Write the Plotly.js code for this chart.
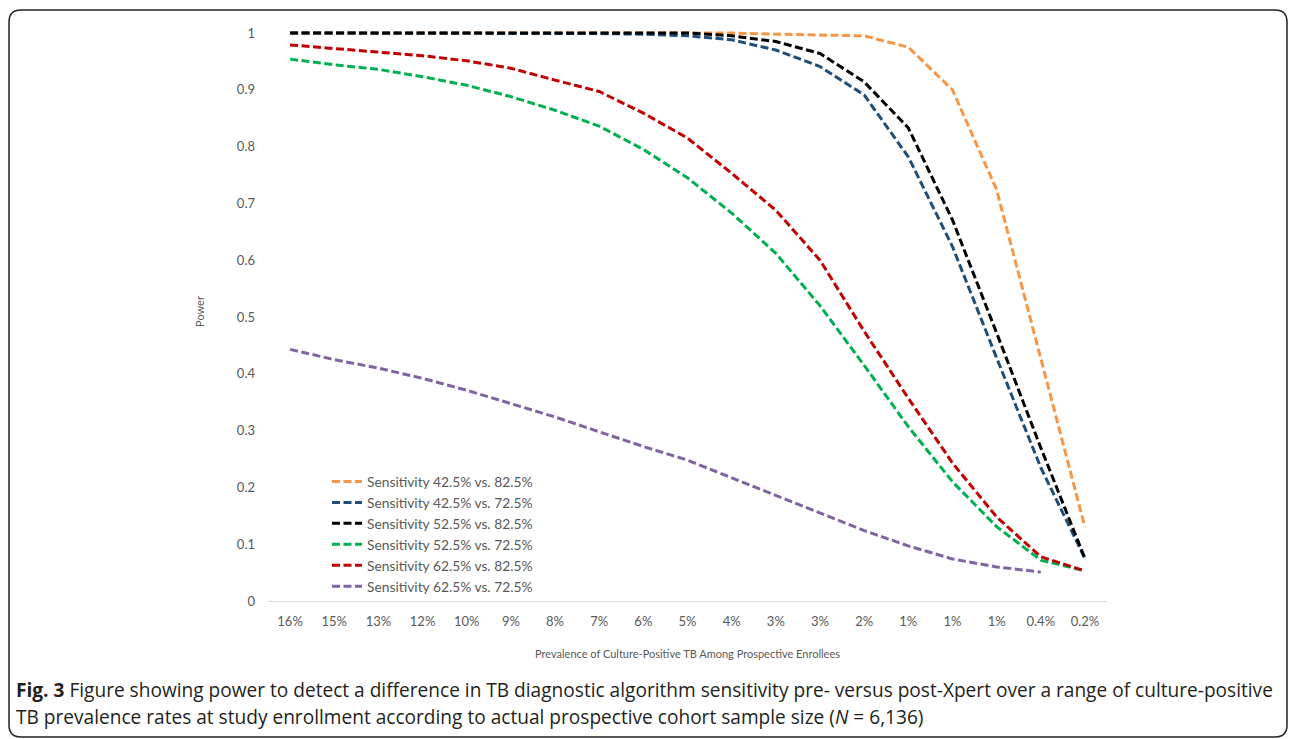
<!DOCTYPE html>
<html>
<head>
<meta charset="utf-8">
<script src="https://cdn.plot.ly/plotly-3.0.1.min.js"></script>
<style>html,body{margin:0;padding:0;background:#fff;}#chart{width:1296px;height:739px;}</style>
</head>
<body>
<div id="chart"></div>
<script>
// Categories (prevalence of culture-positive TB)
const categories = ['16%','15%','13%','12%','10%','9%','8%','7%','6%','5%','4%','3%','3%','2%','1%','1%','1%','0.4%','0.2%'];

const seriesNames = [
  'Sensitivity 42.5% vs. 82.5%',
  'Sensitivity 42.5% vs. 72.5%',
  'Sensitivity 52.5% vs. 82.5%',
  'Sensitivity 52.5% vs. 72.5%',
  'Sensitivity 62.5% vs. 82.5%',
  'Sensitivity 62.5% vs. 72.5%'
];

const sens425vs825 = [1.000, 1.000, 1.000, 1.000, 1.000, 1.000, 1.000, 1.000, 1.000, 1.000, 1.000, 0.998, 0.997, 0.995, 0.975, 0.900, 0.724, 0.425, 0.130];
const sens425vs725 = [1.000, 1.000, 1.000, 1.000, 1.000, 1.000, 1.000, 0.999, 0.998, 0.995, 0.988, 0.970, 0.941, 0.891, 0.782, 0.624, 0.428, 0.235, 0.075];
const sens525vs825 = [1.000, 1.000, 1.000, 1.000, 1.000, 1.000, 1.000, 1.000, 1.000, 1.000, 0.995, 0.985, 0.964, 0.914, 0.833, 0.671, 0.472, 0.270, 0.075];
const sens525vs725 = [0.954, 0.944, 0.936, 0.923, 0.908, 0.888, 0.864, 0.836, 0.795, 0.745, 0.683, 0.612, 0.520, 0.415, 0.307, 0.210, 0.131, 0.072, 0.053];
const sens625vs825 = [0.979, 0.973, 0.967, 0.960, 0.951, 0.938, 0.917, 0.897, 0.859, 0.815, 0.753, 0.688, 0.600, 0.475, 0.357, 0.243, 0.148, 0.078, 0.053];
const sens625vs725 = [0.443, 0.425, 0.410, 0.392, 0.371, 0.348, 0.324, 0.298, 0.272, 0.248, 0.217, 0.187, 0.155, 0.124, 0.097, 0.074, 0.060, 0.051, null];

const seriesValues = [sens425vs825, sens425vs725, sens525vs825, sens525vs725, sens625vs825, sens625vs725];
const seriesColors = ['#F79646', '#1F4E79', '#000000', '#00B050', '#C00000', '#8064A2'];

const idx = categories.map((c, i) => i);

const traces = seriesValues.map((vals, k) => ({
  type: 'scatter',
  mode: 'lines',
  x: idx,
  y: vals,
  name: seriesNames[k],
  line: {color: seriesColors[k], width: 3, dash: '8px,3.5px'},
  connectgaps: false,
  hoverinfo: 'x+y+name'
}));

// geometry helpers (pixel -> paper)
const W = 1296, H = 739;
const L = 268, R = 1107, T = 22, B = 601;
const px = v => (v - L) / (R - L);
const py = v => (B - v) / (B - T);

// rounded border
const bx0 = 9, bx1 = 1287, by0 = 10, by1 = 737, rad = 12;
const borderPath =
  `M ${px(bx0 + rad)} ${py(by0)} L ${px(bx1 - rad)} ${py(by0)} ` +
  `Q ${px(bx1)} ${py(by0)} ${px(bx1)} ${py(by0 + rad)} ` +
  `L ${px(bx1)} ${py(by1 - rad)} Q ${px(bx1)} ${py(by1)} ${px(bx1 - rad)} ${py(by1)} ` +
  `L ${px(bx0 + rad)} ${py(by1)} Q ${px(bx0)} ${py(by1)} ${px(bx0)} ${py(by1 - rad)} ` +
  `L ${px(bx0)} ${py(by0 + rad)} Q ${px(bx0)} ${py(by0)} ${px(bx0 + rad)} ${py(by0)} Z`;

const chartFont = 'Lato, "Open Sans", sans-serif';
const grey = '#595959';

const layout = {
  width: W, height: H,
  margin: {l: L, r: W - R, t: T, b: H - B, pad: 0},
  paper_bgcolor: '#ffffff',
  plot_bgcolor: '#ffffff',
  showlegend: true,
  font: {family: chartFont, color: grey, size: 13},
  xaxis: {
    range: [-0.5, categories.length - 0.5],
    tickmode: 'array',
    tickvals: idx,
    ticktext: categories,
    showgrid: false,
    zeroline: false,
    showline: true,
    linecolor: '#D9D9D9',
    linewidth: 1,
    ticks: '',
    ticklabelstandoff: 8,
    tickfont: {family: chartFont, size: 13, color: grey},
    title: {text: 'Prevalence of Culture-Positive TB Among Prospective Enrollees',
            font: {family: chartFont, size: 11, color: grey}, standoff: 22},
    fixedrange: true
  },
  yaxis: {
    range: [0, (B - T) / (B - 33)],
    tickmode: 'array',
    tickvals: [0, 0.1, 0.2, 0.3, 0.4, 0.5, 0.6, 0.7, 0.8, 0.9, 1],
    ticktext: ['0', '0.1', '0.2', '0.3', '0.4', '0.5', '0.6', '0.7', '0.8', '0.9', '1'],
    showgrid: false,
    zeroline: false,
    showline: false,
    ticks: '',
    ticklabelstandoff: 12,
    tickfont: {family: chartFont, size: 13, color: grey},
    title: {text: 'Power', font: {family: chartFont, size: 11, color: grey}, standoff: 29},
    fixedrange: true
  },
  legend: {
    x: px(327), y: py(466), xanchor: 'left', yanchor: 'top',
    bgcolor: 'rgba(0,0,0,0)',
    borderwidth: 0,
    font: {family: chartFont, size: 13.8, color: grey},
    traceorder: 'normal',
    itemwidth: 30
  },
  shapes: [{
    type: 'path', xref: 'paper', yref: 'paper', path: borderPath,
    line: {color: '#222222', width: 1.5}, fillcolor: 'rgba(0,0,0,0)', layer: 'above'
  }],
  annotations: [
    {xref: 'paper', yref: 'paper', x: px(14), y: py(690), xanchor: 'left', yanchor: 'middle',
     showarrow: false, align: 'left',
     text: '<b>Fig. 3</b> Figure showing power to detect a difference in TB diagnostic algorithm sensitivity pre- versus post-Xpert over a range of culture-positive',
     font: {family: '"Open Sans", sans-serif', size: 19.1, color: '#231F20'}},
    {xref: 'paper', yref: 'paper', x: px(14), y: py(717), xanchor: 'left', yanchor: 'middle',
     showarrow: false, align: 'left',
     text: 'TB prevalence rates at study enrollment according to actual prospective cohort sample size (<i>N</i> = 6,136)',
     font: {family: '"Open Sans", sans-serif', size: 19.1, color: '#231F20'}}
  ]
};

Plotly.newPlot('chart', traces, layout, {displayModeBar: false, staticPlot: false});
</script>
</body>
</html>
